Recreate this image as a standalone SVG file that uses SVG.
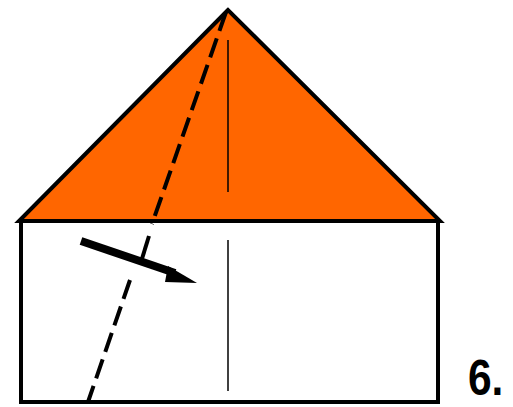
<svg xmlns="http://www.w3.org/2000/svg" width="513" height="407" viewBox="0 0 513 407">
<style>
.edge{stroke:#000;stroke-width:4;stroke-linejoin:miter;}
.crease{stroke:#000;stroke-width:1.5;fill:none;}
.valley{stroke:#000;stroke-width:4;fill:none;stroke-dasharray:20 8;}
.label{font-family:"Liberation Sans",Arial,sans-serif;font-weight:bold;font-size:50px;fill:#000;}
</style>
<rect width="513" height="407" fill="#fff"/>
<g id="paper">
<rect x="21" y="221" width="417" height="181" fill="#fff" class="edge"/>
<polygon points="228,10 19,221 440,221" fill="#FF6600" class="edge"/>
<line x1="228" y1="40" x2="228" y2="192" class="crease"/>
<line x1="228" y1="240" x2="228" y2="391" class="crease"/>
</g>
<g id="connectors">
<path d="M226,12 L152,224" class="valley"/>
<path d="M149,236 L141,262" stroke="#000" stroke-width="4" fill="none"/>
<path d="M130,280 L88,402" class="valley"/>
<path d="M81,241 L175,273" stroke="#000" stroke-width="8" fill="none"/>
<polygon points="168,266 197,283 165,282" fill="#000"/>
</g>
<text x="468" y="395" class="label" transform="translate(468 395) scale(0.85 1) translate(-468 -395)">6.</text>
</svg>
